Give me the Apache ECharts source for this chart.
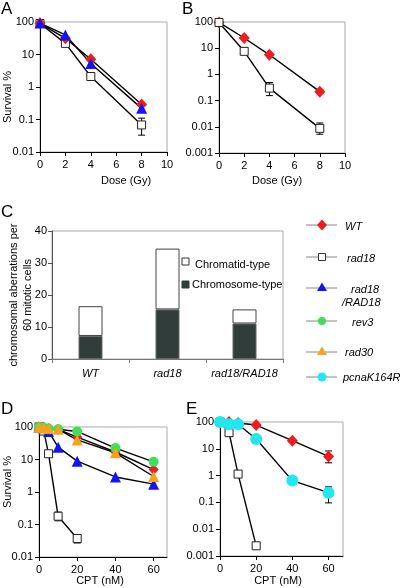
<!DOCTYPE html>
<html><head><meta charset="utf-8">
<script src="https://cdn.jsdelivr.net/npm/echarts@6/dist/echarts.min.js"></script>
<style>html,body{margin:0;padding:0;background:#fff}#c{width:400px;height:588px}</style>
</head><body><div id="c"></div>
<script>
const FONT = 'Liberation Sans';
// ---- Panel A ----
const doseA = [0, 2, 4, 8];
const survA_WT = [91, 31.5, 7.1, 0.29];
const survA_rad18 = [90, 22, 2.1, 0.068];
const survA_rad18RAD18 = [93, 40, 5.3, 0.22];
const errA_rad18 = [[2, 18, 26], [8, 0.033, 0.11]];
// ---- Panel B ----
const doseB = [0, 2, 4, 8];
const survB_WT = [96, 24.5, 5.6, 0.22];
const survB_rad18 = [96, 7.6, 0.3, 0.0087];
const errB_rad18 = [[2, 6.1, 10.1], [4, 0.155, 0.49], [8, 0.0052, 0.014]];
const errB_WT = [[8, 0.19, 0.27]];
// ---- Panel C ----
const catC = ['WT', 'rad18', 'rad18/RAD18'];
const chromosomeC = [7.2, 15.5, 11.1];
const chromatidC = [9.3, 19, 4.4];
// ---- Panel D ----
const cptD = [0, 2.5, 5, 10, 20, 40, 60];
const cptD_rad18 = [0, 2.5, 5, 10, 20];
const survD_WT = [100, 95, 90, 85, 49, 17, 4.9];
const survD_rad18 = [100, 75, 15, 0.18, 0.037];
const survD_rad18RAD18 = [100, 100, 73, 24, 8.9, 2.9, 1.74];
const survD_rev3 = [100, 95, 90, 85, 73, 22.5, 8.5];
const survD_rad30 = [100, 95, 90, 85, 40, 16, 3];
const errD_rad18 = [[10, 0.13, 0.24], [20, 0.027, 0.047]];
// ---- Panel E ----
const cptE = [0, 5, 10, 20, 40, 60];
const cptE_rad18 = [0, 5, 10, 20];
const survE_WT = [100, 100, 92, 77, 20, 5.2];
const survE_rad18 = [100, 40, 1.14, 0.0024];
const survE_pcna = [100, 82, 82, 23.3, 0.65, 0.23];
const errE_WT = [[60, 3.0, 8.3]];
const errE_pcna = [[60, 0.096, 0.38]];
// ---- ticks ----
const ticksCPT = [0, 20, 40, 60];

const COL = { WT: '#ee1c1c', rad18: '#ffffff', rad18RAD18: '#1414f0', rev3: '#3ee05a', rad30: '#f7a21b', pcna: '#22e6f0' };

const zip = (xs, ys) => xs.map((x, i) => [x, ys[i]]);

function lineSeries(name, xs, ys, g, symbol, color, size) {
  return {
    type: 'line', name, xAxisIndex: g, yAxisIndex: g, data: zip(xs, ys),
    symbol, symbolSize: size, showAllSymbol: true,
    lineStyle: { color: '#000', width: 1.4 },
    itemStyle: { color, borderColor: symbol === 'rect' ? '#222' : color, borderWidth: symbol === 'rect' ? 1 : 0 },
    z: 3, animation: false
  };
}
function errSeries(data, g) {
  return {
    type: 'custom', xAxisIndex: g, yAxisIndex: g, data, z: 2, animation: false,
    renderItem: (params, api) => {
      const x = api.value(0), lo = api.value(1), hi = api.value(2);
      const a = api.coord([x, lo]), b = api.coord([x, hi]);
      const w = 3.5, st = { stroke: '#000', lineWidth: 1 };
      return { type: 'group', children: [
        { type: 'line', shape: { x1: a[0], y1: a[1], x2: b[0], y2: b[1] }, style: st },
        { type: 'line', shape: { x1: a[0] - w, y1: a[1], x2: a[0] + w, y2: a[1] }, style: st },
        { type: 'line', shape: { x1: b[0] - w, y1: b[1], x2: b[0] + w, y2: b[1] }, style: st }
      ] };
    }
  };
}
const lblStyle = { color: '#000', fontSize: 11, fontFamily: FONT };
function logY(g, min) {
  return {
    type: 'log', logBase: 10, gridIndex: g, min, max: 100,
    axisLine: { show: true, lineStyle: { color: '#000', width: 1 } },
    axisTick: { show: true, length: 4, lineStyle: { color: '#000' } },
    minorTick: { show: false }, splitLine: { show: false },
    axisLabel: Object.assign({ margin: 6, formatter: v => String(+(+v).toPrecision(3)) }, lblStyle)
  };
}
function valX(g, min, max, interval, custom) {
  const ax = {
    type: 'value', gridIndex: g, min, max,
    axisLine: { show: true, lineStyle: { color: '#000', width: 1 } },
    axisTick: { show: true, length: 4, lineStyle: { color: '#000' } },
    splitLine: { show: false },
    axisLabel: Object.assign({ margin: 7, showMaxLabel: true, showMinLabel: true }, lblStyle)
  };
  if (interval) ax.interval = interval;
  if (custom) { ax.axisLabel.customValues = custom; ax.axisTick.customValues = custom; }
  return ax;
}
const frame = { show: true, borderColor: '#aaa', borderWidth: 1, backgroundColor: 'transparent' };

const option = {
  animation: false,
  backgroundColor: '#fff',
  textStyle: { fontFamily: FONT },
  grid: [
    Object.assign({ left: 40, top: 22, width: 127, height: 130 }, frame),
    Object.assign({ left: 219, top: 22, width: 126, height: 131 }, frame),
    Object.assign({ left: 52, top: 231, width: 231, height: 128 }, frame),
    Object.assign({ left: 39, top: 427, width: 128, height: 130 }, frame),
    Object.assign({ left: 220, top: 422, width: 123, height: 134 }, frame)
  ],
  xAxis: [
    valX(0, 0, 10, 2),
    valX(1, 0, 10, 2),
    {
      type: 'category', gridIndex: 2, data: catC,
      axisLine: { show: true, lineStyle: { color: '#777' } },
      axisTick: { show: true, length: 4, lineStyle: { color: '#777' } },
      axisLabel: { interval: 0, hideOverlap: false, margin: 9, color: '#000', fontSize: 11, fontFamily: FONT, fontStyle: 'italic' }
    },
    valX(3, 0, 67, null, ticksCPT),
    valX(4, 0, 68, null, ticksCPT)
  ],
  yAxis: [
    logY(0, 0.01),
    logY(1, 0.001),
    {
      type: 'value', gridIndex: 2, min: 0, max: 40, interval: 10,
      axisLine: { show: true, lineStyle: { color: '#555' } },
      axisTick: { show: true, length: 4, lineStyle: { color: '#555' } },
      splitLine: { show: false },
      axisLabel: Object.assign({ margin: 5 }, lblStyle)
    },
    logY(3, 0.01),
    logY(4, 0.001)
  ],
  series: [
    // A
    errSeries(errA_rad18, 0),
    lineSeries('rad18', doseA, survA_rad18, 0, 'rect', COL.rad18, 8),
    lineSeries('WT', doseA, survA_WT, 0, 'diamond', COL.WT, [11, 12]),
    lineSeries('rad18/RAD18', doseA, survA_rad18RAD18, 0, 'triangle', COL.rad18RAD18, 11),
    // B
    errSeries(errB_rad18, 1),
    errSeries(errB_WT, 1),
    lineSeries('WT', doseB, survB_WT, 1, 'diamond', COL.WT, [11, 12]),
    lineSeries('rad18', doseB, survB_rad18, 1, 'rect', COL.rad18, 8),
    // C
    {
      type: 'bar', xAxisIndex: 2, yAxisIndex: 2, stack: 'c', data: chromosomeC, barWidth: 24,
      itemStyle: { color: '#303d3b', borderColor: '#666', borderWidth: 1 }, animation: false
    },
    {
      type: 'bar', xAxisIndex: 2, yAxisIndex: 2, stack: 'c', data: chromatidC, barWidth: 24,
      itemStyle: { color: '#ffffff', borderColor: '#444', borderWidth: 1 }, animation: false
    },
    // D
    errSeries(errD_rad18, 3),
    lineSeries('rad18', cptD_rad18, survD_rad18, 3, 'rect', COL.rad18, 8),
    lineSeries('WT', cptD, survD_WT, 3, 'diamond', COL.WT, [10, 11]),
    lineSeries('rad18/RAD18', cptD, survD_rad18RAD18, 3, 'triangle', COL.rad18RAD18, 11),
    lineSeries('rev3', cptD, survD_rev3, 3, 'circle', COL.rev3, 10),
    lineSeries('rad30', cptD, survD_rad30, 3, 'triangle', COL.rad30, 11),
    // E
    errSeries(errE_WT, 4),
    errSeries(errE_pcna, 4),
    lineSeries('rad18', cptE_rad18, survE_rad18, 4, 'rect', COL.rad18, 8),
    lineSeries('WT', cptE, survE_WT, 4, 'diamond', COL.WT, [11, 12]),
    lineSeries('pcnaK164R', cptE, survE_pcna, 4, 'circle', COL.pcna, 12)
  ],
  graphic: []
};

const G = option.graphic;
function txt(x, y, text, size, opts) {
  const o = Object.assign({ align: 'left', vAlign: 'middle', rot: 0, italic: false }, opts || {});
  G.push({ type: 'text', x, y, rotation: o.rot, z: 10, style: {
    text, fill: '#000', fontSize: size, fontFamily: FONT, fontStyle: o.italic ? 'italic' : 'normal',
    align: o.align, verticalAlign: o.vAlign, textAlign: o.align, textVerticalAlign: o.vAlign } });
}
// panel letters
txt(1, 9, 'A', 17); txt(182, 9, 'B', 17); txt(1, 212, 'C', 17); txt(1, 409, 'D', 17); txt(186, 409, 'E', 17);
// axis names
txt(126, 181, 'Dose (Gy)', 11, { align: 'center' });
txt(277, 181, 'Dose (Gy)', 11, { align: 'center' });
txt(100, 581, 'CPT (nM)', 11, { align: 'center' });
txt(278, 581, 'CPT (nM)', 11, { align: 'center' });
txt(8, 97, 'Survival %', 11, { align: 'center', rot: Math.PI / 2 });
txt(8, 482, 'Survival %', 11, { align: 'center', rot: Math.PI / 2 });
txt(14, 295, 'chromosomal aberrations per', 11, { align: 'center', rot: Math.PI / 2 });
txt(28, 295, '60 mitotic cells', 11, { align: 'center', rot: Math.PI / 2 });
// chromatid / chromosome legend
G.push({ type: 'rect', shape: { x: 182, y: 258, width: 7, height: 7 }, style: { fill: '#fff', stroke: '#333', lineWidth: 1 }, z: 10 });
txt(195, 265, 'Chromatid-type', 11);
G.push({ type: 'rect', shape: { x: 182, y: 281, width: 7, height: 7 }, style: { fill: '#303d3b', stroke: '#303d3b', lineWidth: 1 }, z: 10 });
txt(192, 285, 'Chromosome-type', 11);
// genotype legend
function legLine(y) {
  G.push({ type: 'line', shape: { x1: 306, y1: y, x2: 337, y2: y }, style: { stroke: '#888', lineWidth: 1 }, z: 10 });
}
const mx = 322;
legLine(225);
G.push({ type: 'polygon', shape: { points: [[mx, 219.5], [mx + 5, 225], [mx, 230.5], [mx - 5, 225]] }, style: { fill: COL.WT }, z: 11 });
txt(345, 227, 'WT', 11, { italic: true });
legLine(257);
G.push({ type: 'rect', shape: { x: mx - 3.5, y: 253.5, width: 7, height: 7 }, style: { fill: '#fff', stroke: '#333', lineWidth: 1 }, z: 11 });
txt(347, 259, 'rad18', 11, { italic: true });
legLine(288);
G.push({ type: 'polygon', shape: { points: [[mx, 282.5], [mx + 5, 291], [mx - 5, 291]] }, style: { fill: COL.rad18RAD18 }, z: 11 });
txt(351, 290, 'rad18', 11, { italic: true });
txt(342, 303, '/RAD18', 11, { italic: true });
legLine(321);
G.push({ type: 'circle', shape: { cx: mx, cy: 321, r: 4 }, style: { fill: COL.rev3 }, z: 11 });
txt(352, 323, 'rev3', 11, { italic: true });
legLine(352);
G.push({ type: 'polygon', shape: { points: [[mx, 346.5], [mx + 5, 355], [mx - 5, 355]] }, style: { fill: COL.rad30 }, z: 11 });
txt(345, 353, 'rad30', 11, { italic: true });
legLine(377);
G.push({ type: 'circle', shape: { cx: mx, cy: 377, r: 4.5 }, style: { fill: COL.pcna }, z: 11 });
txt(343, 378, 'pcnaK164R', 11, { italic: true });

const chart = echarts.init(document.getElementById('c'), null, { renderer: 'canvas' });
chart.setOption(option);
</script></body></html>
